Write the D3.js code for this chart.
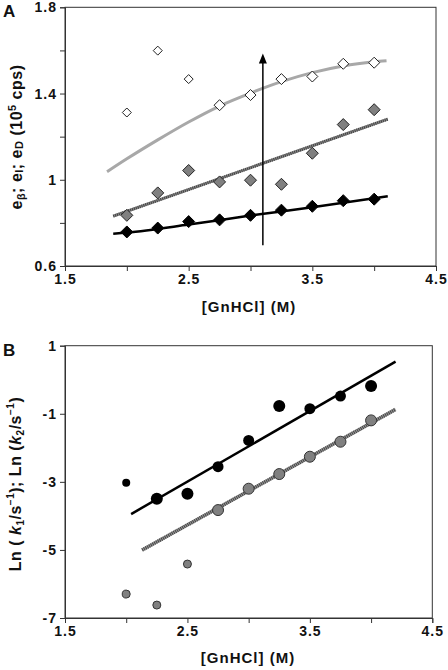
<!DOCTYPE html>
<html><head><meta charset="utf-8">
<script src="https://cdn.jsdelivr.net/npm/d3@7/dist/d3.min.js"></script>
<style>
body{margin:0;background:#fff;}
text{font-family:"Liberation Sans",Arial,sans-serif;font-weight:bold;fill:#111;}
</style></head>
<body>
<svg id="c" width="448" height="670"></svg>
<script>
// ---------- DATA ----------
const conc = [2.0, 2.25, 2.5, 2.75, 3.0, 3.25, 3.5, 3.75, 4.0];
// Panel A (10^5 cps)
const eBeta = [1.312, 1.599, 1.467, 1.346, 1.393, 1.467, 1.479, 1.538, 1.543];   // open diamonds
const eI    = [0.835, 0.939, 1.043, 0.990, 0.998, 0.979, 1.123, 1.256, 1.325];   // gray diamonds
const eD    = [0.758, 0.776, 0.806, 0.814, 0.835, 0.859, 0.877, 0.903, 0.910];   // black diamonds
const fitBetaX = [1.84, 2.0, 2.25, 2.5, 2.75, 3.0, 3.25, 3.5, 3.75, 4.0, 4.10];
const fitBetaY = [1.037, 1.097, 1.185, 1.268, 1.342, 1.402, 1.455, 1.497, 1.528, 1.547, 1.552];
const fitIX = [1.89, 4.11];
const fitIY = [0.831, 1.281];
const fitDX = [1.89, 2.0, 2.5, 3.0, 3.5, 4.11];
const fitDY = [0.750, 0.755, 0.792, 0.834, 0.872, 0.924];
const arrowX = 3.10, arrowY0 = 0.696, arrowY1 = 1.586;
const ticksAx = [1.5, 2.5, 3.5, 4.5], minorAx = [2.0, 3.0, 4.0];
const ticksAy = [0.6, 1.0, 1.4, 1.8], minorAy = [0.8, 1.2, 1.6];
const betaSize = [4.5, 4.5, 4.5, 5.5, 5.5, 5.5, 5.5, 5.5, 5.5];
// Panel B
const lnK1 = [-3.025, -3.496, -3.349, -2.555, -1.782, -0.773, -0.851, -0.479, -0.185];
const lnK2 = [-6.297, -6.62, -5.415, -3.829, -3.202, -2.771, -2.262, -1.821, -1.194];
const k1Size = [4, 6, 6, 5.5, 5.5, 6, 5.5, 5.5, 6];
const k2Size = [4, 4, 4, 5.5, 5.5, 5.5, 5.5, 5.5, 5.5];
const fitK1X = [2.04, 4.20], fitK1Y = [-3.946, 0.530];
const fitK2X = [2.13, 4.20], fitK2Y = [-5.004, -0.871];
const ticksBx = [1.5, 2.5, 3.5, 4.5], minorBx = [2.0, 3.0, 4.0];
const ticksBy = [1, -1, -3, -5, -7];

const svg = d3.select("#c");
const axisColor = "#333";

function frame(g, x, y, xt, xm, yt, ym, fmtY) {
  const [x0, x1] = x.range(), [y0, y1] = y.range();
  g.append("rect").attr("x", x0).attr("y", y1).attr("width", x1 - x0).attr("height", y0 - y1)
    .attr("fill", "none").attr("stroke", axisColor).attr("stroke-width", 1);
  const xa = d3.axisBottom(x).tickValues(xt.concat(xm)).tickSize(5).tickPadding(3)
    .tickFormat(d => xt.includes(d) ? d3.format(".1f")(d) : "");
  const gx = g.append("g").attr("transform", `translate(0,${y0})`).call(xa);
  const ya = d3.axisLeft(y).tickValues(yt.concat(ym)).tickSize(5).tickPadding(3)
    .tickFormat(d => yt.includes(d) ? fmtY(d) : "");
  const gy = g.append("g").attr("transform", `translate(${x0},0)`).call(ya);
  [gx, gy].forEach(a => {
    a.select(".domain").attr("stroke", axisColor);
    a.selectAll(".tick line").attr("stroke", axisColor);
    a.selectAll("text").attr("font-size", 14).attr("font-family", "Liberation Sans, Arial, sans-serif")
      .attr("font-weight", "bold").attr("fill", "#111").attr("letter-spacing", 1);
  });
}

// ---------- PANEL A ----------
const xA = d3.scaleLinear().domain([1.5, 4.5]).range([65, 436]);
const yA = d3.scaleLinear().domain([0.6, 1.8]).range([266, 7.3]);
const gA = svg.append("g");
frame(gA, xA, yA, ticksAx, minorAx, ticksAy, minorAy, d => d === 1 ? "1" : d3.format(".1f")(d));

gA.append("path").datum(d3.zip(fitBetaX, fitBetaY))
  .attr("d", d3.line().x(d => xA(d[0])).y(d => yA(d[1])).curve(d3.curveMonotoneX)).attr("fill", "none")
  .attr("stroke", "#a8a8a8").attr("stroke-width", 3);
gA.append("path").datum(d3.zip(fitIX, fitIY)).attr("d", d3.line().x(d => xA(d[0])).y(d => yA(d[1])))
  .attr("fill", "none").attr("stroke", "#8a8a8a").attr("stroke-width", 3);
gA.append("path").datum(d3.zip(fitIX, fitIY)).attr("d", d3.line().x(d => xA(d[0])).y(d => yA(d[1])))
  .attr("fill", "none").attr("stroke", "#444").attr("stroke-width", 3).attr("stroke-dasharray", "1,1");
gA.append("path").datum(d3.zip(fitDX, fitDY))
  .attr("d", d3.line().x(d => xA(d[0])).y(d => yA(d[1])).curve(d3.curveMonotoneX))
  .attr("fill", "none").attr("stroke", "#000").attr("stroke-width", 2.5);

function diamond(g, xs, ys, sizes, fill, stroke) {
  g.selectAll(null).data(d3.zip(xs, ys, sizes)).enter().append("path")
    .attr("d", d => { const cx = xA(d[0]), cy = yA(d[1]), r = d[2];
      return `M${cx},${cy - r}L${cx + r},${cy}L${cx},${cy + r}L${cx - r},${cy}Z`; })
    .attr("fill", fill).attr("stroke", stroke).attr("stroke-width", 1);
}
diamond(gA, conc, eBeta, betaSize, "#fff", "#222");
diamond(gA, conc, eI, conc.map(() => 6), "#808080", "#222");
diamond(gA, conc, eD, conc.map(() => 6), "#000", "#000");

// arrow
gA.append("line").attr("x1", xA(arrowX)).attr("x2", xA(arrowX))
  .attr("y1", yA(arrowY0)).attr("y2", yA(arrowY1) + 8).attr("stroke", "#000").attr("stroke-width", 1.5);
gA.append("path").attr("d", `M${xA(arrowX)},${yA(arrowY1)}L${xA(arrowX) + 4},${yA(arrowY1) + 10}L${xA(arrowX) - 4},${yA(arrowY1) + 10}Z`)
  .attr("fill", "#000");

gA.append("text").attr("x", 3).attr("y", 17).attr("font-family", "Liberation Serif, Times New Roman, serif")
  .attr("font-size", 17).text("A");
gA.append("text").attr("x", 249).attr("y", 312).attr("text-anchor", "middle").attr("font-size", 15)
  .attr("letter-spacing", 1).text("[GnHCl] (M)");
const tA = gA.append("text").attr("transform", "translate(22,137) rotate(-90)").attr("text-anchor", "middle")
  .attr("font-size", 16).attr("letter-spacing", 0.5);
tA.append("tspan").text("e");
tA.append("tspan").attr("font-size", 11).attr("dy", 3).text("β");
tA.append("tspan").attr("dy", -3).text("; e");
tA.append("tspan").attr("font-size", 11).attr("dy", 1).text("I");
tA.append("tspan").attr("dy", -1).text("; e");
tA.append("tspan").attr("font-size", 11).attr("dy", 1).text("D");
tA.append("tspan").attr("dy", -1).text(" (10");
tA.append("tspan").attr("font-size", 11).attr("dy", -6).text("5");
tA.append("tspan").attr("dy", 6).text(" cps)");

// ---------- PANEL B ----------
const xB = d3.scaleLinear().domain([1.5, 4.5]).range([65, 432.3]);
const yB = d3.scaleLinear().domain([-7, 1]).range([618, 345.7]);
const gB = svg.append("g");
frame(gB, xB, yB, ticksBx, minorBx, ticksBy, [], d => String(d));

gB.append("path").datum(d3.zip(fitK1X, fitK1Y)).attr("d", d3.line().x(d => xB(d[0])).y(d => yB(d[1])))
  .attr("fill", "none").attr("stroke", "#000").attr("stroke-width", 2.5);
gB.append("path").datum(d3.zip(fitK2X, fitK2Y)).attr("d", d3.line().x(d => xB(d[0])).y(d => yB(d[1])))
  .attr("fill", "none").attr("stroke", "#999").attr("stroke-width", 3.5);
gB.append("path").datum(d3.zip(fitK2X, fitK2Y)).attr("d", d3.line().x(d => xB(d[0])).y(d => yB(d[1])))
  .attr("fill", "none").attr("stroke", "#444").attr("stroke-width", 3.5).attr("stroke-dasharray", "1,1");

gB.selectAll(null).data(d3.zip(conc, lnK1, k1Size)).enter().append("circle")
  .attr("cx", d => xB(d[0])).attr("cy", d => yB(d[1])).attr("r", d => d[2]).attr("fill", "#000");
gB.selectAll(null).data(d3.zip(conc, lnK2, k2Size)).enter().append("circle")
  .attr("cx", d => xB(d[0])).attr("cy", d => yB(d[1])).attr("r", d => d[2])
  .attr("fill", "#808080").attr("stroke", "#333").attr("stroke-width", 1);

gB.append("text").attr("x", 3).attr("y", 356).attr("font-family", "Liberation Serif, Times New Roman, serif")
  .attr("font-size", 17).text("B");
gB.append("text").attr("x", 248).attr("y", 663).attr("text-anchor", "middle").attr("font-size", 15)
  .attr("letter-spacing", 1).text("[GnHCl] (M)");
const tB = gB.append("text").attr("transform", "translate(21,484) rotate(-90)").attr("text-anchor", "middle")
  .attr("font-size", 16).attr("letter-spacing", 0.5);
tB.append("tspan").text("Ln ( ");
tB.append("tspan").attr("font-style", "italic").text("k");
tB.append("tspan").attr("font-size", 10).attr("dy", 3).text("1");
tB.append("tspan").attr("dy", -3).text("/s");
tB.append("tspan").attr("font-size", 10).attr("dy", -7).text("−1");
tB.append("tspan").attr("dy", 7).text("); Ln (");
tB.append("tspan").attr("font-style", "italic").text("k");
tB.append("tspan").attr("font-size", 10).attr("dy", 3).text("2");
tB.append("tspan").attr("dy", -3).text("/s");
tB.append("tspan").attr("font-size", 10).attr("dy", -7).text("−1");
tB.append("tspan").attr("dy", 7).text(")");
</script>
</body></html>
